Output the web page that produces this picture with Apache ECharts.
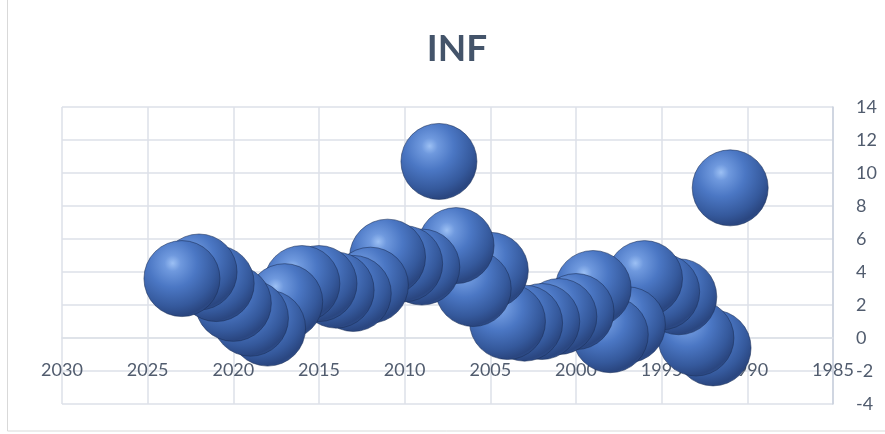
<!DOCTYPE html>
<html>
<head>
<meta charset="utf-8">
<script src="https://cdn.jsdelivr.net/npm/echarts@6/dist/echarts.min.js"></script>
<style>
  html, body { margin: 0; padding: 0; background: #ffffff; }
  #chart { width: 885px; height: 434px; }
</style>
</head>
<body>
<div id="chart"></div>
<script>
// Annual inflation (%), one bubble per year
const years = [1991, 1992, 1993, 1994, 1995, 1996, 1997, 1998, 1999, 2000,
               2001, 2002, 2003, 2004, 2005, 2006, 2007, 2008, 2009, 2010,
               2011, 2012, 2013, 2014, 2015, 2016, 2017, 2018, 2019, 2020,
               2021, 2022, 2023];
const inflation = [9.1, -0.6, 0.0, 2.5, 2.8, 3.6, 0.8, 0.2, 3.0, 1.6,
                   1.3, 1.0, 0.9, 1.0, 4.1, 3.0, 5.6, 10.7, 4.3, 4.5,
                   4.9, 3.2, 2.7, 2.9, 3.3, 3.3, 2.2, 0.6, 1.2, 2.1,
                   3.3, 4.0, 3.6];

const titleText = 'INF';
const xRange = { min: 1985, max: 2030, step: 5 };
const yRange = { min: -4, max: 14, step: 2 };

const labelColor = '#515c6e';
const gridColor = '#dde1e8';
const fontFamily = 'Lato, "Open Sans", sans-serif';

const sphere = {
  type: 'radial', x: 0.38, y: 0.3, r: 0.75,
  colorStops: [
    { offset: 0.0, color: '#9cc0f4' },
    { offset: 0.14, color: '#6f99de' },
    { offset: 0.42, color: '#4b77c4' },
    { offset: 0.75, color: '#35599c' },
    { offset: 0.92, color: '#2a4680' },
    { offset: 1.0, color: '#2f4f8e' }
  ]
};

const chart = echarts.init(document.getElementById('chart'), null, { renderer: 'canvas' });

chart.setOption({
  backgroundColor: '#ffffff',
  animation: false,
  title: {
    text: titleText,
    left: 452,
    top: 26,
    textAlign: 'center',
    textStyle: { fontFamily: fontFamily, fontWeight: 'bold', fontSize: 37, color: '#44546a' }
  },
  graphic: [{
    type: 'rect',
    shape: { x: 7.5, y: -10, width: 900, height: 441 },
    style: { fill: 'none', stroke: '#d9d9d9', lineWidth: 1 },
    silent: true
  }],
  grid: { left: 62, right: 52, top: 107, bottom: 30, outerBoundsMode: 'none', containLabel: false },
  xAxis: {
    type: 'value',
    min: xRange.min, max: xRange.max, interval: xRange.step,
    inverse: true,
    position: 'bottom',
    // the category labels sit along the zero line
    offset: -66,
    axisLine: { onZero: false, lineStyle: { color: gridColor, width: 1.5 } },
    axisTick: { show: false },
    axisLabel: {
      margin: 23, color: labelColor, fontSize: 18, fontFamily: fontFamily,
      formatter: v => String(v)
    },
    splitLine: { show: true, lineStyle: { color: gridColor, width: 1.5 } }
  },
  yAxis: {
    type: 'value',
    position: 'right',
    min: yRange.min, max: yRange.max, interval: yRange.step,
    axisLine: { show: true, lineStyle: { color: '#c9d0dc', width: 1.5 } },
    axisTick: { show: false },
    axisLabel: { margin: 23, color: labelColor, fontSize: 18, fontFamily: fontFamily },
    splitLine: { show: true, lineStyle: { color: gridColor, width: 1.5 } }
  },
  series: [{
    type: 'scatter',
    symbol: 'circle',
    symbolSize: 76,
    data: years.map((yr, i) => [yr, inflation[i]]),
    itemStyle: {
      color: sphere,
      opacity: 1,
      borderColor: 'rgba(25,45,85,0.55)',
      borderWidth: 1
    },
    z: 3
  }]
});
</script>
</body>
</html>
